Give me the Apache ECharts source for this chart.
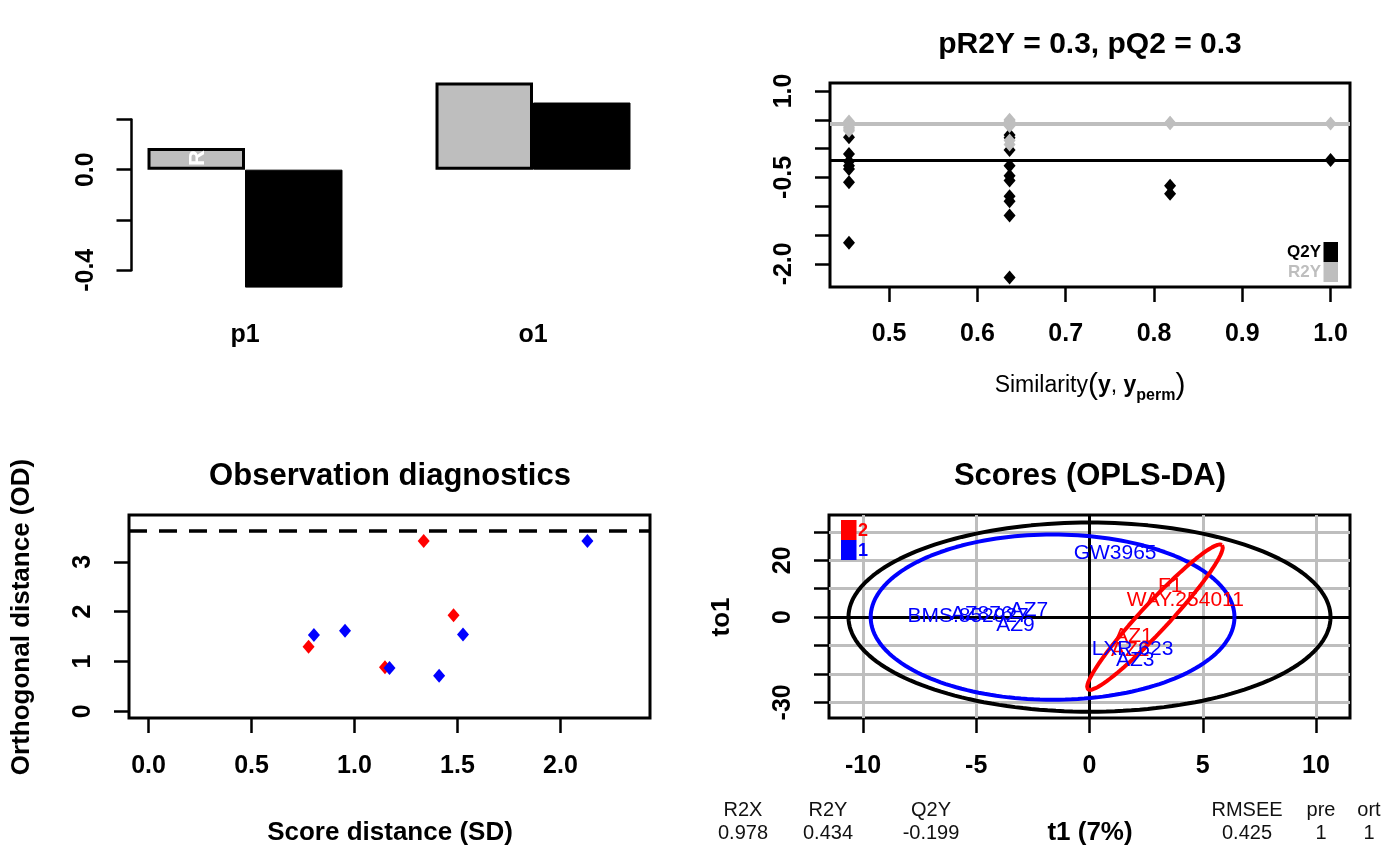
<!DOCTYPE html>
<html><head><meta charset="utf-8">
<script src="https://cdn.jsdelivr.net/npm/echarts@6/dist/echarts.min.js"></script>
<style>html,body{margin:0;padding:0;background:#fff}#c{width:1400px;height:866px}</style>
</head><body><div id="c"></div>
<script>
// ---------- DATA ----------
// overview barplot
const barCategories = ['p1', 'o1'];
const barR2Y = [0.086, 0.347];
const barQ2Y = [-0.469, 0.267];
const barTicks = [0.2, 0, -0.2, -0.4];
const barTickLabels = [0, -0.4];

// permutation plot
const permTitle = 'pR2Y = 0.3, pQ2 = 0.3';
const permSimilarity = [0.4545,0.4545,0.4545,0.4545,0.4545,0.4545,0.4545,
  0.6364,0.6364,0.6364,0.6364,0.6364,0.6364,0.6364,0.6364,0.6364,0.6364,
  0.8182,0.8182,1.0];
const permR2Y = [0.47,0.45,0.43,0.40,0.37,0.34,0.31,
  0.50,0.48,0.46,0.45,0.43,0.42,0.41,0.39,0.14,0.07,
  0.45,0.44,0.434];
const permQ2Y = [0.195,-0.092,-0.224,-0.299,-0.356,-0.586,-1.632,
  0.236,0.19,-0.023,-0.299,-0.471,-0.552,-0.828,-0.914,-1.161,-2.236,
  -0.644,-0.782,-0.199];
const modelR2Y = 0.434;
const modelQ2Y = -0.199;
const permXTicks = [0.5, 0.6, 0.7, 0.8, 0.9, 1.0];
const permYTicks = [1, 0.5, 0, -0.5, -1, -1.5, -2];
const permYLabels = [1, -0.5, -2];

// observation diagnostics
const diagSD_2 = [0.777, 1.148, 1.336, 1.481];
const diagOD_2 = [1.296, 0.882, 3.42, 1.93];
const diagSD_1 = [0.803, 0.954, 1.170, 1.411, 1.527, 2.131];
const diagOD_1 = [1.53, 1.617, 0.868, 0.715, 1.543, 3.42];
const odLimit = 3.62;
const diagXTicks = [0, 0.5, 1, 1.5, 2];
const diagYTicks = [0, 1, 2, 3];

// scores
const scoreNames_1 = ['GW3965', 'BMS.852927', 'AZ876', 'AZ7', 'AZ9', 'LXR.623', 'AZ3'];
const scoreT1_1 = [1.13, -5.36, -4.76, -2.67, -3.27, 1.9, 2.02];
const scoreTo1_1 = [22.5, 0.2, 1.0, 2.6, -2.7, -11.2, -15.0];
const scoreNames_2 = ['F1', 'WAY.254011', 'AZ1', 'AZ2'];
const scoreT1_2 = [3.56, 4.23, 1.94, 1.8];
const scoreTo1_2 = [11.0, 6.1, -6.8, -11.5];
const scoreXTicks = [-10, -5, 0, 5, 10];
const scoreYTicks = [-30, -20, -10, 0, 10, 20, 30];
const scoreYLabels = [20, 0, -30];
const scoreGridX = [-10, -5, 5, 10];
const scoreGridY = [-30, -20, -10, 10, 20, 30];
// ellipses: center, first and second half-axis vectors (data units)
const ellipseCenters = [[0, 0], [-1.63, 0], [2.89, 0]];
const ellipseAxisU = [[10.64, 0], [8.03, 0], [2.96, 25.4]];
const ellipseAxisV = [[0, 33.3], [0, 29.1], [-0.455, 3.33]];
const ellipseColors = ['#000000', '#0000FF', '#FF0000'];

// model summary
const statNames = ['R2X', 'R2Y', 'Q2Y', 'RMSEE', 'pre', 'ort'];
const statValues = ['0.978', '0.434', '-0.199', '0.425', '1', '1'];

// ---------- LAYOUT / STYLE ----------
const F = '"Liberation Sans", Arial, Helvetica, sans-serif';
const GRAY = '#BEBEBE', RED = '#FF0000', BLUE = '#0000FF';
const statX = [743, 828, 931, 1247, 1321, 1369];

function ellipsePoints(c, u, v, n) {
  const pts = [];
  for (let i = 0; i <= n; i++) {
    const t = 2 * Math.PI * i / n;
    pts.push([c[0] + u[0] * Math.cos(t) + v[0] * Math.sin(t),
              c[1] + u[1] * Math.cos(t) + v[1] * Math.sin(t)]);
  }
  return pts;
}
function ticks(vals) { return { show: true, customValues: vals, length: 15, lineStyle: { color: '#000', width: 2.5 } }; }
function labels(vals, fmt, rot, margin) {
  return { show: true, customValues: vals, formatter: fmt, rotate: rot || 0, margin: margin,
    fontFamily: F, fontWeight: 'bold', fontSize: 25, lineHeight: 25, color: '#000' };
}
const fmt1 = v => Number(v).toFixed(1);
const fmt0 = v => String(Math.round(v));
const box = { show: true, borderColor: '#000', borderWidth: 3, backgroundColor: 'transparent' };
const noLine = { show: false, onZero: false };

function txt(x, y, text, font, color, rot, align) {
  return { type: 'text', x: x, y: y, rotation: rot || 0, z: 100,
    style: { text: text, font: font, fill: color || '#000', align: align || 'center', verticalAlign: 'middle' } };
}

const chart = echarts.init(document.getElementById('c'), null, { renderer: 'canvas' });

const option = {
  animation: false,
  backgroundColor: '#fff',
  grid: [
    { left: 101, top: 74.1, width: 576, height: 221.3, show: false },
    { left: 131.5, top: 119.4, width: 10, height: 150.9, show: false },
    Object.assign({ left: 830, top: 83, width: 520, height: 204 }, box),
    Object.assign({ left: 129, top: 515, width: 521, height: 203 }, box),
    Object.assign({ left: 829, top: 515, width: 521, height: 203 }, box)
  ],
  xAxis: [
    { gridIndex: 0, type: 'category', data: barCategories, axisLine: noLine, axisTick: { show: false },
      axisLabel: { margin: 27, fontFamily: F, fontWeight: 'bold', fontSize: 25, lineHeight: 25, color: '#000' } },
    { gridIndex: 1, type: 'value', show: false, axisLine: noLine },
    { gridIndex: 2, type: 'value', min: 0.433, max: 1.022, axisLine: noLine, splitLine: { show: false },
      axisTick: ticks(permXTicks), axisLabel: labels(permXTicks, fmt1, 0, 35) },
    { gridIndex: 3, type: 'value', min: -0.095, max: 2.435, axisLine: noLine, splitLine: { show: false },
      axisTick: ticks(diagXTicks), axisLabel: labels(diagXTicks, fmt1, 0, 36) },
    { gridIndex: 4, type: 'value', min: -11.5, max: 11.5, axisLine: noLine, splitLine: { show: false },
      axisTick: ticks(scoreXTicks), axisLabel: labels(scoreXTicks, fmt0, 0, 36) }
  ],
  yAxis: [
    { gridIndex: 0, type: 'value', min: -0.5, max: 0.38, show: false, axisLine: noLine },
    { gridIndex: 1, type: 'value', min: -0.4, max: 0.2, interval: 0.2, splitLine: { show: false },
      axisLine: { show: true, onZero: false, lineStyle: { color: '#000', width: 2.5 } },
      axisTick: ticks(barTicks), axisLabel: labels(barTickLabels, fmt1, 90, 33) },
    { gridIndex: 2, type: 'value', min: -2.402, max: 1.138, axisLine: noLine, splitLine: { show: false },
      axisTick: ticks(permYTicks), axisLabel: labels(permYLabels, fmt1, 90, 33) },
    { gridIndex: 3, type: 'value', min: -0.135, max: 3.94, axisLine: noLine, splitLine: { show: false },
      axisTick: ticks(diagYTicks), axisLabel: labels(diagYTicks, fmt0, 90, 33) },
    { gridIndex: 4, type: 'value', min: -35.5, max: 35.96, axisLine: noLine, splitLine: { show: false },
      axisTick: ticks(scoreYTicks), axisLabel: labels(scoreYLabels, fmt0, 90, 33) }
  ],
  series: [
    // ---- overview bars ----
    { type: 'bar', name: 'R2Y', xAxisIndex: 0, yAxisIndex: 0, data: barR2Y, barGap: '0%', barCategoryGap: '32.3%',
      itemStyle: { color: GRAY, borderColor: '#000', borderWidth: 3 }, z: 3 },
    { type: 'bar', name: 'Q2Y', xAxisIndex: 0, yAxisIndex: 0, data: barQ2Y, barGap: '0%', barCategoryGap: '32.3%',
      itemStyle: { color: '#000', borderColor: '#000', borderWidth: 1 }, z: 2 },
    // ---- permutation ----
    { type: 'scatter', xAxisIndex: 2, yAxisIndex: 2, symbol: 'diamond', symbolSize: [12, 14],
      data: permSimilarity.map((s, i) => [s, permQ2Y[i]]), itemStyle: { color: '#000', opacity: 1 }, z: 3,
      markLine: { silent: true, symbol: ['none', 'none'], label: { show: false },
        lineStyle: { color: '#000', width: 3, type: 'solid' }, data: [{ yAxis: modelQ2Y }] } },
    { type: 'scatter', xAxisIndex: 2, yAxisIndex: 2, symbol: 'diamond', symbolSize: [12, 14],
      data: permSimilarity.map((s, i) => [s, permR2Y[i]]), itemStyle: { color: GRAY, opacity: 1 }, z: 4,
      markLine: { silent: true, symbol: ['none', 'none'], label: { show: false },
        lineStyle: { color: GRAY, width: 4, type: 'solid' }, data: [{ yAxis: modelR2Y }] } },
    // ---- diagnostics ----
    { type: 'scatter', xAxisIndex: 3, yAxisIndex: 3, symbol: 'diamond', symbolSize: [12, 14],
      data: diagSD_2.map((s, i) => [s, diagOD_2[i]]), itemStyle: { color: RED, opacity: 1 }, z: 3,
      markLine: { silent: true, symbol: ['none', 'none'], label: { show: false },
        lineStyle: { color: '#000', width: 3.5, type: [18, 12] }, data: [{ yAxis: odLimit }] } },
    { type: 'scatter', xAxisIndex: 3, yAxisIndex: 3, symbol: 'diamond', symbolSize: [12, 14],
      data: diagSD_1.map((s, i) => [s, diagOD_1[i]]), itemStyle: { color: BLUE, opacity: 1 }, z: 4 },
    // ---- scores: grid lines ----
    { type: 'scatter', xAxisIndex: 4, yAxisIndex: 4, data: [], z: 1,
      markLine: { silent: true, symbol: ['none', 'none'], label: { show: false },
        lineStyle: { color: GRAY, width: 3, type: 'solid' },
        data: scoreGridX.map(v => ({ xAxis: v })).concat(scoreGridY.map(v => ({ yAxis: v }))) } },
    { type: 'scatter', xAxisIndex: 4, yAxisIndex: 4, data: [], z: 2,
      markLine: { silent: true, symbol: ['none', 'none'], label: { show: false },
        lineStyle: { color: '#000', width: 3, type: 'solid' }, data: [{ xAxis: 0 }, { yAxis: 0 }] } }
  ].concat(ellipseCenters.map((c, i) => ({
      type: 'line', xAxisIndex: 4, yAxisIndex: 4, showSymbol: false, symbol: 'none', z: 5 + i,
      data: ellipsePoints(c, ellipseAxisU[i], ellipseAxisV[i], 180),
      lineStyle: { color: ellipseColors[i], width: 4 }
    }))).concat([
    { type: 'scatter', xAxisIndex: 4, yAxisIndex: 4, symbolSize: 0, z: 10, itemStyle: { opacity: 1 },
      data: scoreNames_2.map((n, i) => ({ name: n, value: [scoreT1_2[i], scoreTo1_2[i]] })),
      label: { show: true, position: 'inside', formatter: '{b}', color: RED, fontFamily: F, fontSize: 21 } },
    { type: 'scatter', xAxisIndex: 4, yAxisIndex: 4, symbolSize: 0, z: 11, itemStyle: { opacity: 1 },
      data: scoreNames_1.map((n, i) => ({ name: n, value: [scoreT1_1[i], scoreTo1_1[i]] })),
      label: { show: true, position: 'inside', formatter: '{b}', color: BLUE, fontFamily: F, fontSize: 21 } }
  ]),
  graphic: [
    // overview
    txt(198, 158, 'R', 'bold 22px ' + F, '#fff', Math.PI / 2),
    // permutation
    txt(1090, 45, permTitle, 'bold 30px ' + F),
    { type: 'text', x: 1090, y: 386, z: 100,
      style: { text: 'Similarity{p|(}{b|y}, {b|y}{s|perm}{p|)}', font: '23px ' + F, fill: '#000',
        align: 'center', verticalAlign: 'middle',
        rich: {
          p: { fontSize: 30, fontFamily: F, verticalAlign: 'middle', lineHeight: 36 },
          b: { fontSize: 23, fontWeight: 'bold', fontFamily: F, verticalAlign: 'middle', lineHeight: 36 },
          s: { fontSize: 16, fontWeight: 'bold', fontFamily: F, verticalAlign: 'bottom', lineHeight: 36 }
        } } },
    { type: 'rect', shape: { x: 1323.5, y: 242, width: 14.5, height: 20 }, style: { fill: '#000' }, z: 100 },
    { type: 'rect', shape: { x: 1323.5, y: 262, width: 14.5, height: 20 }, style: { fill: GRAY }, z: 100 },
    txt(1321, 252, 'Q2Y', 'bold 17px ' + F, '#000', 0, 'right'),
    txt(1321, 272, 'R2Y', 'bold 17px ' + F, GRAY, 0, 'right'),
    // diagnostics
    txt(390, 476, 'Observation diagnostics', 'bold 31px ' + F),
    txt(390, 833, 'Score distance (SD)', 'bold 26px ' + F),
    txt(22, 617, 'Orthogonal distance (OD)', 'bold 26px ' + F, '#000', Math.PI / 2),
    // scores
    txt(1090, 476, 'Scores (OPLS-DA)', 'bold 31px ' + F),
    txt(1090, 833, 't1 (7%)', 'bold 26px ' + F),
    txt(722, 617, 'to1', 'bold 26px ' + F, '#000', Math.PI / 2),
    { type: 'rect', shape: { x: 841, y: 520, width: 15.5, height: 20 }, style: { fill: RED }, z: 100 },
    { type: 'rect', shape: { x: 841, y: 540, width: 15.5, height: 20 }, style: { fill: BLUE }, z: 100 },
    txt(858, 531, '2', 'bold 18px ' + F, RED, 0, 'left'),
    txt(858, 551, '1', 'bold 18px ' + F, BLUE, 0, 'left')
  ].concat(statNames.map((n, i) => txt(statX[i], 810, n, '20px ' + F, '#111')))
   .concat(statValues.map((v, i) => txt(statX[i], 833, v, '20px ' + F, '#111')))
};
chart.setOption(option);
</script>
</body></html>
